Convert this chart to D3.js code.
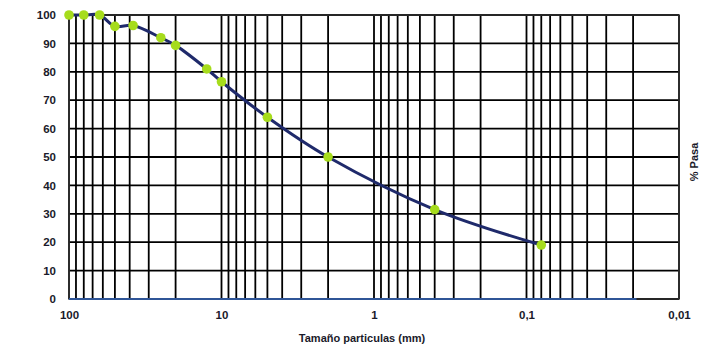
<!DOCTYPE html>
<html>
<head>
<meta charset="utf-8">
<script src="https://cdn.jsdelivr.net/npm/d3@7"></script>
<style>
  body { margin: 0; background: #fff; }
  svg { display: block; }
  .tick text { font-family: "Liberation Sans", Arial, sans-serif; font-weight: bold; font-size: 11.5px; fill: #1a1a2a; }
</style>
</head>
<body>
<svg id="chart" width="702" height="351"></svg>
<script>
// --- Data ---
const sizesMm = [100, 80, 63, 50, 38, 25, 20, 12.5, 10, 5, 2, 0.4, 0.08];
const percentPassing = [100, 100, 100, 96, 96.3, 92, 89.3, 81, 76.5, 64, 50, 31.5, 19];
const baseSizes = [100, 0.019];
const baseValues = [0, 0];
const xTickValues = [100, 10, 1, 0.1, 0.01];
const xTickLabels = ["100", "10", "1", "0,1", "0,01"];
const yTickValues = [0, 10, 20, 30, 40, 50, 60, 70, 80, 90, 100];

const svg = d3.select("#chart");
const margin = { top: 15, right: 23, bottom: 52, left: 69 };
const width = 702 - margin.left - margin.right;
const height = 351 - margin.top - margin.bottom;

const g = svg.append("g").attr("transform", `translate(${margin.left},${margin.top})`);

const x = d3.scaleLog().domain([100, 0.01]).range([0, width]);
const y = d3.scaleLinear().domain([0, 100]).range([height, 0]);

// vertical grid at every log minor position
const minorTicks = [];
for (let dec = 0.01; dec < 100; dec *= 10) {
    for (let k = 1; k <= 9; k++) minorTicks.push(+(dec * k).toPrecision(3));
}
minorTicks.push(100);

g.append("g").selectAll("line.vgrid")
    .data(minorTicks)
    .enter().append("line")
    .attr("class", "vgrid")
    .attr("x1", d => x(d)).attr("x2", d => x(d))
    .attr("y1", 0).attr("y2", height)
    .attr("stroke", "#000").attr("stroke-width", 1.8);

g.append("g").selectAll("line.hgrid")
    .data(yTickValues)
    .enter().append("line")
    .attr("class", "hgrid")
    .attr("x1", 0).attr("x2", width)
    .attr("y1", d => y(d)).attr("y2", d => y(d))
    .attr("stroke", "#000").attr("stroke-width", 1.8);

// plot border
g.append("rect")
    .attr("width", width).attr("height", height)
    .attr("fill", "none").attr("stroke", "#333").attr("stroke-width", 1.5);

// blue base line
g.append("path")
    .datum(baseSizes.map((s, i) => [s, baseValues[i]]))
    .attr("fill", "none")
    .attr("stroke", "#2f5597").attr("stroke-width", 2)
    .attr("d", d3.line().x(d => x(d[0])).y(d => y(d[1])));

// axes
const xAxis = d3.axisBottom(x)
    .tickValues(xTickValues)
    .tickFormat((d, i) => xTickLabels[i])
    .tickSize(0).tickPadding(12);
g.append("g").attr("transform", `translate(0,${height})`).call(xAxis)
    .call(s => s.select(".domain").remove());

const yAxis = d3.axisLeft(y)
    .tickValues(yTickValues)
    .tickSize(0).tickPadding(13);
g.append("g").call(yAxis)
    .call(s => s.select(".domain").remove());

// curve
const pts = sizesMm.map((s, i) => [s, percentPassing[i]]);
g.append("path")
    .datum(pts)
    .attr("fill", "none")
    .attr("stroke", "#1f2a6b").attr("stroke-width", 3)
    .attr("d", d3.line().curve(d3.curveCatmullRom.alpha(0.5)).x(d => x(d[0])).y(d => y(d[1])));

g.append("g").selectAll("circle.marker")
    .data(pts)
    .enter().append("circle")
    .attr("class", "marker")
    .attr("cx", d => x(d[0])).attr("cy", d => y(d[1]))
    .attr("r", 4.8)
    .attr("fill", "#a6dc1c");

// axis titles
svg.append("text")
    .attr("x", 362).attr("y", 342)
    .attr("text-anchor", "middle")
    .style("font-family", "'Liberation Sans', Arial, sans-serif")
    .style("font-weight", "bold").style("font-size", "11px")
    .attr("fill", "#1a1a2a")
    .text("Tamaño particulas (mm)");

svg.append("text")
    .attr("transform", "translate(698,162) rotate(-90)")
    .attr("text-anchor", "middle")
    .style("font-family", "'Liberation Sans', Arial, sans-serif")
    .style("font-weight", "bold").style("font-size", "11px")
    .attr("fill", "#1a1a2a")
    .text("% Pasa");
</script>
</body>
</html>
